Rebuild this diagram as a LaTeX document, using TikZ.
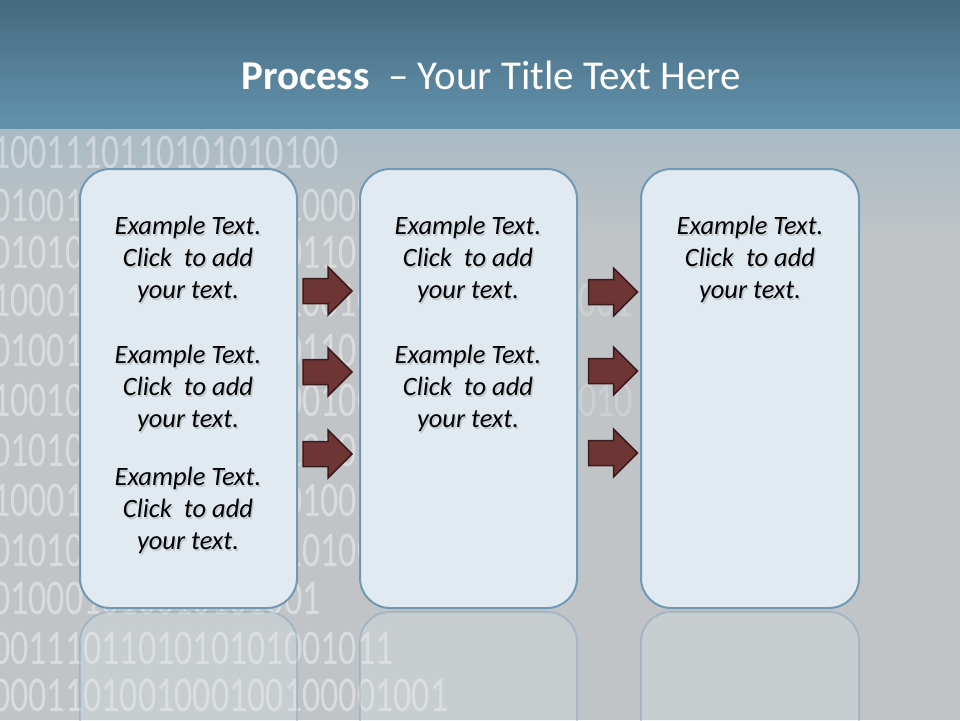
\documentclass[tikz,border=0pt]{standalone}
\usepackage{fontspec}
\setmainfont{Carlito}
\definecolor{bandtop}{HTML}{466A7F}
\definecolor{bandbot}{HTML}{6293AD}
\definecolor{grayA}{HTML}{A9BAC4}
\definecolor{grayB}{HTML}{C0C4C6}
\definecolor{boxfill}{HTML}{E1EAF0}
\definecolor{boxline}{HTML}{7099B4}
\definecolor{arrowfill}{HTML}{6E3535}
\definecolor{arrowline}{HTML}{3B1C1C}
\tikzset{
  panel/.style={draw=boxline, line width=2pt, fill=boxfill, rounded corners=30pt},
  mirror/.style={draw=boxline, draw opacity=0.35, line width=2pt, fill=boxfill, fill opacity=0.25, rounded corners=30pt},
  txt/.style={align=center, font=\itshape\fontsize{26.5}{32}\selectfont, text=black, inner sep=0pt},
  txtshadow/.style={align=center, font=\itshape\fontsize{26.5}{32}\selectfont, text=black, text opacity=0.15, inner sep=0pt},
  arrowshape/.style={draw=arrowline, line width=1.5pt, fill=arrowfill, line join=miter},
  digits/.style={anchor=west, text=white, text opacity=0.4, font=\fontsize{50}{50}\selectfont, inner sep=0pt},
  digitsfaint/.style={anchor=west, text=white, text opacity=0.2, font=\fontsize{50}{50}\selectfont, inner sep=0pt},
  title/.style={text=white, font=\fontsize{41}{44}\selectfont, inner sep=0pt}
}
\newcommand\blockarrowat[2]{%
  \draw[arrowshape, shift={(#1,#2)}] (-24.5,-12.5) -- (0.5,-12.5) -- (0.5,-24) -- (24.5,0)
    -- (0.5,24) -- (0.5,12.5) -- (-24.5,12.5) -- cycle;}
\newcommand\digitrow[1]{\scalebox{0.72}[1]{#1}}
\begin{document}
\begin{tikzpicture}[x=1pt,y=-1pt]
\useasboundingbox (0,0) rectangle (960,720);
% background
\shade[top color=grayA, bottom color=grayB] (0,128) rectangle (960,240);
\fill[grayB] (0,240) rectangle (960,720);
% binary digits texture
\begin{scope}
\clip (0,135) rectangle (960,720);
\node[digits] (d1) at (-8,152) {\digitrow{1001110110101010100}};
\node[digits] (d2) at (-8,205) {\digitrow{010011010100101010000}};
\node[digits] (d3) at (-8,252) {\digitrow{010100110101000101101}};
\node[digits] (d4) at (-8,300) {\digitrow{100010100100101010010}};
\node[digits] (d5) at (-8,350) {\digitrow{010011010010101001101}};
\node[digits] (d6) at (-8,400) {\digitrow{100101001010010100100}};
\node[digits] (d7) at (-8,450) {\digitrow{010100101001010010101}};
\node[digits] (d8) at (-8,500) {\digitrow{100010100110100101001}};
\node[digits] (d9) at (-8,550) {\digitrow{010100101010001010100}};
\node[digits] (d10) at (-8,598) {\digitrow{010001010010101001}};
\node[digitsfaint] (d13) at (560,300) {\digitrow{0001}};
\node[digitsfaint] (d14) at (560,400) {\digitrow{0010}};
\node[digits] (d11) at (-8,648) {\digitrow{0011101101010101001011}};
\node[digits] (d12) at (-8,695) {\digitrow{0001101001000100100001001}};
\end{scope}
\shade[top color=bandtop, bottom color=bandbot] (0,0) rectangle (960,128);
% title
\node[title] (ttl) at (491,75) {\textbf{Process}~ – Your Title Text Here};
% reflections
\path[mirror] (80,612) rectangle (297,760);
\path[mirror] (360,612) rectangle (577,760);
\path[mirror] (641,612) rectangle (859,760);
% panels
\node[panel, minimum width=217pt, minimum height=439pt, inner sep=0pt] (p1) at (188.5,388.5) {};
\node[panel, minimum width=217pt, minimum height=439pt, inner sep=0pt] (p2) at (468.5,388.5) {};
\node[panel, minimum width=218pt, minimum height=439pt, inner sep=0pt] (p3) at (750,388.5) {};
% texts
\foreach \n/\x/\y in {a/188/259, b/188/388, c/188/510, d/468/259, e/468/388, f/750/259}{
  \node[txtshadow] (s\n) at (\x+1.5,\y+2.5) {Example Text.\\Click~ to add\\your text.};
  \node[txt] (t\n) at (\x,\y) {Example Text.\\Click~ to add\\your text.};
}
% arrows
\blockarrowat{327.5}{291}
\blockarrowat{327.5}{372}
\blockarrowat{327.5}{454}
\blockarrowat{613}{292}
\blockarrowat{613}{371}
\blockarrowat{613}{453}
\end{tikzpicture}
\end{document}
